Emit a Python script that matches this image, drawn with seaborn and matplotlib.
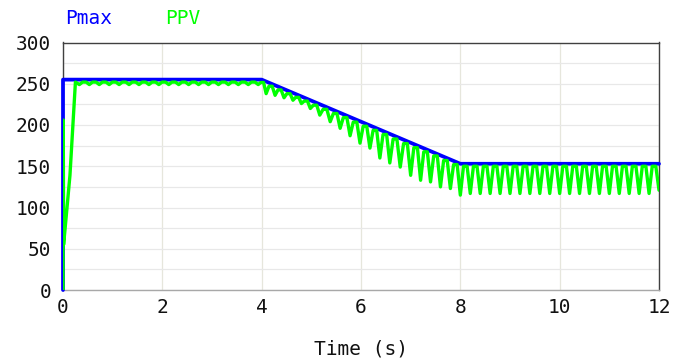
import matplotlib
matplotlib.use("Agg")
import matplotlib.pyplot as plt
import pandas as pd
import seaborn as sns

# Pmax reference (blue)
pmax_time = [0.0, 0.0, 4.0, 8.0, 12.0]
pmax_value = [0, 255, 255, 153, 153]

# PPV start-up transient (green)
ppv_start_time = [0.0, 0.005, 0.012, 0.04, 0.14, 0.2, 0.25]
ppv_start_value = [0, 206, 55, 73, 139, 200, 252]

# PPV ripple: trough of each cycle and the crest that follows it
trough_time = [
    0.33, 0.53, 0.73, 0.93, 1.13, 1.33, 1.53, 1.73, 1.93, 2.13,
    2.33, 2.53, 2.73, 2.93, 3.13, 3.33, 3.53, 3.73, 3.93,
    4.09, 4.27, 4.45, 4.63, 4.80, 4.98, 5.17, 5.38, 5.58, 5.78,
    5.98, 6.18, 6.38, 6.58, 6.79, 7.00, 7.20, 7.40, 7.60, 7.80,
    8.0, 8.2, 8.4, 8.6, 8.8, 9.0, 9.2, 9.4, 9.6, 9.8,
    10.0, 10.2, 10.4, 10.6, 10.8, 11.0, 11.2, 11.4, 11.6, 11.8, 12.0,
]
trough_value = [
    249, 249, 249, 249, 249, 249, 249, 249, 249, 249,
    249, 249, 249, 249, 249, 249, 249, 249, 249,
    238, 236, 233, 230, 226, 220, 212, 204, 196, 187,
    178, 172, 160, 154, 149, 139, 133, 131, 125, 123,
    115, 117, 117, 117, 117, 117, 117, 117, 117, 117,
    117, 117, 117, 117, 117, 117, 117, 117, 117, 117, 121,
]
peak_value = [
    252, 252, 252, 252, 252, 252, 252, 252, 252, 252,
    252, 252, 252, 252, 252, 252, 252, 252, 251.5,
    247, 242.5, 238, 233.5, 229, 224, 219, 214, 209, 203.5,
    198.5, 193.5, 188.5, 183, 177.5, 172.5, 167.5, 162.5, 157, 152,
    150, 150, 150, 150, 150, 150, 150, 150, 150, 150,
    150, 150, 150, 150, 150, 150, 150, 150, 150, 150,
]

x_ticks = [0, 2, 4, 6, 8, 10, 12]
y_ticks = [0, 50, 100, 150, 200, 250, 300]

# build the PPV polyline: trough -> flat-ish crest -> next trough
ppv_t = list(ppv_start_time)
ppv_v = list(ppv_start_value)
shoulder = 0.32
for i in range(len(trough_time)):
    ppv_t.append(trough_time[i])
    ppv_v.append(trough_value[i])
    if i < len(peak_value):
        gap = trough_time[i + 1] - trough_time[i]
        ppv_t += [trough_time[i] + shoulder * gap, trough_time[i + 1] - shoulder * gap]
        ppv_v += [peak_value[i], peak_value[i]]

pmax_df = pd.DataFrame({"time": pmax_time, "value": pmax_value})
ppv_df = pd.DataFrame({"time": ppv_t, "value": ppv_v})

sns.set_theme(style="white")
plt.rcParams["font.family"] = ["DejaVu Sans Mono"]

fig = plt.figure(figsize=(6.83, 3.58), dpi=100)
ax = fig.add_axes([63 / 683, 68 / 358, 596 / 683, 247.5 / 358])

sns.lineplot(data=pmax_df, x="time", y="value", sort=False, estimator=None,
             color="#0000ff", linewidth=2.7, ax=ax, zorder=3, clip_on=False)
sns.lineplot(data=ppv_df, x="time", y="value", sort=False, estimator=None,
             color="#00ff00", linewidth=2.4, ax=ax, zorder=4)

ax.set_xlim(0, 12)
ax.set_ylim(0, 300)
ax.set_xticks(x_ticks)
ax.set_yticks(y_ticks)
ax.set_yticks(range(25, 300, 50), minor=True)
ax.tick_params(axis="both", which="both", length=0, labelsize=14, colors="#111111")
ax.tick_params(axis="y", pad=8.5)
ax.tick_params(axis="x", pad=6)

ax.grid(True, axis="y", which="both", color="#e8e8e8", linewidth=0.9)
ax.grid(True, axis="x", which="major", color="#e6e6dc", linewidth=0.9)
ax.set_axisbelow(True)

for side in ["top", "left", "right"]:
    ax.spines[side].set_color("#404040")
    ax.spines[side].set_linewidth(1.0)
ax.spines["bottom"].set_color("#a8a8a8")
ax.spines["bottom"].set_linewidth(1.0)

ax.set_xlabel("Time (s)", fontsize=14, labelpad=16, color="#111111")
ax.set_ylabel("")

fig.text(65 / 683, 1 - 18 / 358, "Pmax", color="#0000ff", fontsize=14, va="center")
fig.text(165 / 683, 1 - 18 / 358, "PPV", color="#00ff00", fontsize=14, va="center")

fig.savefig("out.png", dpi=100)
